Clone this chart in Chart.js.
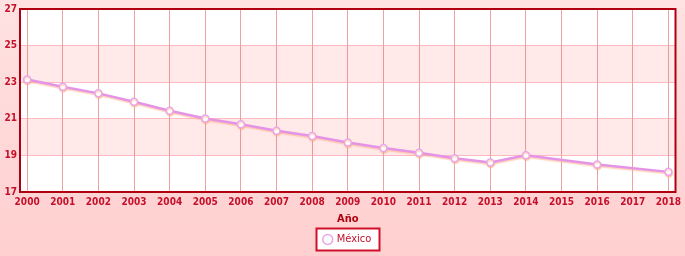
<!DOCTYPE html>
<html>
<head>
<meta charset="utf-8">
<script src="https://cdn.jsdelivr.net/npm/chart.js@4/dist/chart.umd.min.js"></script>
<style>
html,body{margin:0;padding:0;background:#ffd6d6;}
#wrap{width:685px;height:256px;}
</style>
</head>
<body>
<div id="wrap"><canvas id="c" width="685" height="256"></canvas></div>
<script>
const years = [2000,2001,2002,2003,2004,2005,2006,2007,2008,2009,2010,2011,2012,2013,2014,2015,2016,2017,2018];
const mexico = [23.15,22.75,22.39,21.93,21.44,21.02,20.70,20.35,20.06,19.70,19.41,19.15,18.84,18.61,19.01,null,18.50,null,18.10];
const yTicks = [17,19,21,23,25,27];
const seriesName = 'México';
const axisTitle = 'Año';

const red = '#c4102a';
const tickFont = {family: 'DejaVu Sans Condensed', size: 10, weight: 'bold'};

const bgPlugin = {
  id: 'bg',
  afterUpdate(chart) {
    const lg = chart.legend;
    if (!lg || !lg.legendHitBoxes || !lg.legendHitBoxes.length) return;
    const a = chart.chartArea;
    const hb = lg.legendHitBoxes[0];
    const dx = (a.left + a.right) / 2 - (hb.left + hb.width / 2);
    lg.left += dx; lg.right += dx;
    lg.legendHitBoxes.forEach(h => { h.left += dx; });
  },
  beforeDraw(chart) {
    const ctx = chart.ctx;
    const g = ctx.createLinearGradient(0, 0, 0, chart.height);
    g.addColorStop(0, '#ffe2e2');
    g.addColorStop(1, '#ffcfcf');
    ctx.save();
    ctx.fillStyle = g;
    ctx.fillRect(0, 0, chart.width, chart.height);
    const a = chart.chartArea, y = chart.scales.y;
    ctx.fillStyle = '#ffffff';
    ctx.fillRect(a.left, a.top, a.right - a.left, a.bottom - a.top);
    ctx.fillStyle = '#ffe9e9';
    for (let i = 1; i < yTicks.length - 1; i += 2) {
      const y1 = y.getPixelForValue(yTicks[i]);
      const y2 = y.getPixelForValue(yTicks[i + 1]);
      ctx.fillRect(a.left, y2, a.right - a.left, y1 - y2);
    }
    const lg = chart.legend;
    if (lg && lg.legendHitBoxes && lg.legendHitBoxes.length) {
      const hb = lg.legendHitBoxes[0];
      const x0 = Math.round(hb.left - 8) + 0.5, y0 = Math.round(hb.top - 6) + 0.5;
      const w = Math.round(hb.width + 16), h = Math.round(hb.height + 11);
      ctx.fillStyle = '#ffffff';
      ctx.fillRect(x0, y0, w, h);
      ctx.strokeStyle = '#d0102a';
      ctx.lineWidth = 2;
      ctx.strokeRect(x0, y0, w, h);
    }
    ctx.restore();
  },
  beforeDatasetsDraw(chart) {
    const a = chart.chartArea;
    const ctx = chart.ctx;
    ctx.save();
    ctx.strokeStyle = '#b00010';
    ctx.lineWidth = 2;
    ctx.strokeRect(a.left, a.top, a.right - a.left, a.bottom - a.top);
    ctx.restore();
  },
  beforeDatasetDraw(chart) {
    const ctx = chart.ctx;
    ctx.save();
    ctx.shadowColor = 'rgba(255,170,120,0.5)';
    ctx.shadowOffsetY = 1.5;
    ctx.shadowOffsetX = 0.5;
    ctx.shadowBlur = 1;
  },
  afterDatasetDraw(chart) {
    chart.ctx.restore();
  }
};

new Chart(document.getElementById('c'), {
  type: 'line',
  data: {
    datasets: [{
      label: seriesName,
      data: years.map((yr, i) => ({x: yr, y: mexico[i]})),
      borderColor: '#e493e6',
      backgroundColor: '#ffffff',
      borderWidth: 2.5,
      pointRadius: 3.5,
      pointBorderWidth: 1.5,
      pointBorderColor: '#eaa6ea',
      pointBackgroundColor: '#ffffff',
      spanGaps: true,
      tension: 0
    }]
  },
  options: {
    responsive: false,
    animation: false,
    layout: {padding: {top: 6, right: 9, left: 0, bottom: 1}},
    plugins: {
      tooltip: {enabled: false},
      legend: {
        position: 'bottom',
        labels: {
          usePointStyle: true,
          pointStyle: 'circle',
          boxWidth: 7,
          boxHeight: 7,
          padding: 8,
          color: red,
          font: {family: 'DejaVu Sans Condensed', size: 11}
        }
      }
    },
    scales: {
      x: {
        type: 'linear',
        min: years[0] - 0.2,
        max: years[years.length - 1] + 0.2,
        afterBuildTicks: s => { s.ticks = years.map(v => ({value: v})); },
        afterFit: s => { s.height = 34; },
        ticks: {
          autoSkip: false,
          maxRotation: 0,
          padding: 4,
          color: red,
          font: tickFont,
          callback: v => String(v)
        },
        grid: {color: 'rgba(215,70,80,0.5)', lineWidth: 1, drawTicks: false},
        border: {display: false},
        title: {
          display: true,
          text: axisTitle,
          color: '#b00010',
          padding: {top: 1, bottom: 0},
          font: {family: 'DejaVu Sans Condensed', size: 11, weight: 'bold'}
        }
      },
      y: {
        min: 17,
        max: 27,
        afterBuildTicks: s => { s.ticks = yTicks.map(v => ({value: v})); },
        afterFit: s => { s.width = 20; },
        ticks: {
          padding: 3,
          color: red,
          font: tickFont
        },
        grid: {color: 'rgba(255,160,170,0.7)', lineWidth: 1, drawTicks: false},
        border: {display: false}
      }
    }
  },
  plugins: [bgPlugin]
});
</script>
</body>
</html>
